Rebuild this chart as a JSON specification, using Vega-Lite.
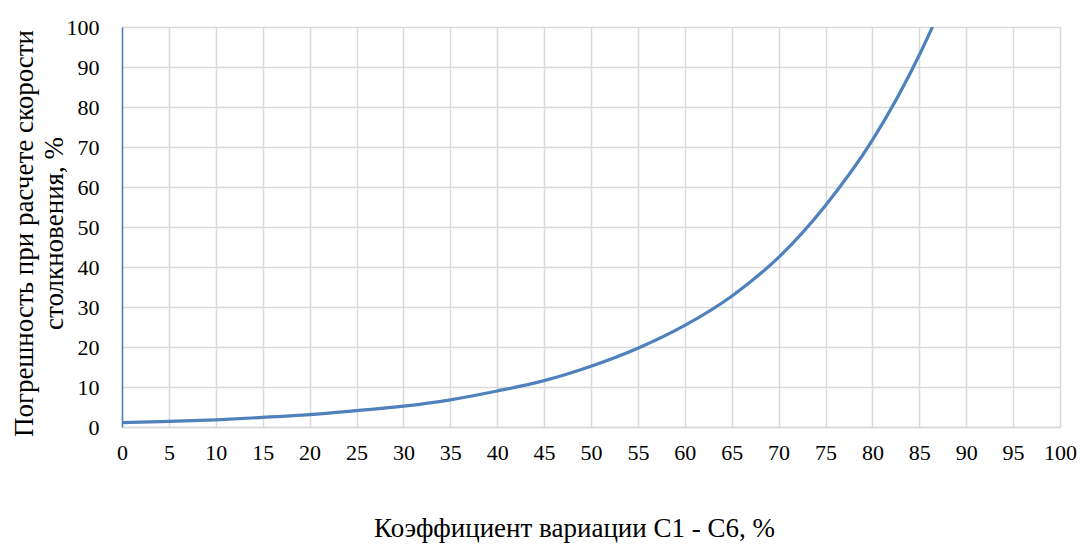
{
  "$schema": "https://vega.github.io/schema/vega-lite/v6.json",
  "width": 938,
  "height": 400,
  "autosize": "none",
  "padding": {"left": 122, "top": 27, "right": 25, "bottom": 122},
  "background": "white",
  "config": {
    "view": {"stroke": null},
    "font": "Liberation Serif"
  },
  "data": {
    "values": [
      {"x": 0, "y": 1.1},
      {"x": 5, "y": 1.4},
      {"x": 10, "y": 1.8},
      {"x": 15, "y": 2.4},
      {"x": 20, "y": 3.1},
      {"x": 25, "y": 4.1},
      {"x": 30, "y": 5.2},
      {"x": 35, "y": 6.8},
      {"x": 40, "y": 9.0},
      {"x": 45, "y": 11.6},
      {"x": 50, "y": 15.2},
      {"x": 55, "y": 19.7},
      {"x": 60, "y": 25.4},
      {"x": 65, "y": 32.7},
      {"x": 70, "y": 42.4},
      {"x": 75, "y": 55.4},
      {"x": 80, "y": 71.7},
      {"x": 85, "y": 93.0},
      {"x": 86.4, "y": 100}
    ]
  },
  "mark": {"type": "line", "color": "#4F81BD", "strokeWidth": 3.2, "interpolate": "monotone", "clip": true},
  "encoding": {
    "x": {
      "field": "x",
      "type": "quantitative",
      "scale": {"domain": [0, 100], "nice": false, "zero": false},
      "axis": {
        "values": [0,5,10,15,20,25,30,35,40,45,50,55,60,65,70,75,80,85,90,95,100],
        "title": "Коэффициент вариации С1 - С6, %",
        "titleFont": "Liberation Serif",
        "titleFontSize": 27,
        "titleFontWeight": "normal",
        "titleColor": "#000000",
        "titleX": 452,
        "titleY": 109,
        "titleAlign": "center",
        "titleBaseline": "alphabetic",
        "labelFont": "Liberation Serif",
        "labelFontSize": 22,
        "labelColor": "#000000",
        "labelPadding": 15,
        "labelFlush": false,
        "ticks": false,
        "domainColor": "#d9d9d9",
        "domainWidth": 1.5,
        "grid": true,
        "gridColor": "#d9d9d9",
        "gridWidth": 1.5
      }
    },
    "y": {
      "field": "y",
      "type": "quantitative",
      "scale": {"domain": [0, 100], "nice": false},
      "axis": {
        "values": [0,10,20,30,40,50,60,70,80,90,100],
        "title": ["Погрешность при расчете скорости", "столкновения, %"],
        "titleFont": "Liberation Serif",
        "titleFontSize": 27,
        "titleFontWeight": "normal",
        "titleColor": "#000000",
        "titleLineHeight": 30,
        "titleX": -98,
        "titleY": 206,
        "titleAlign": "center",
        "titleBaseline": "middle",
        "labelFont": "Liberation Serif",
        "labelFontSize": 22,
        "labelColor": "#000000",
        "labelPadding": 23,
        "labelFlush": false,
        "ticks": false,
        "domainColor": "#4F81BD",
        "domainWidth": 1.5,
        "grid": true,
        "gridColor": "#d9d9d9",
        "gridWidth": 1.5
      }
    }
  }
}
